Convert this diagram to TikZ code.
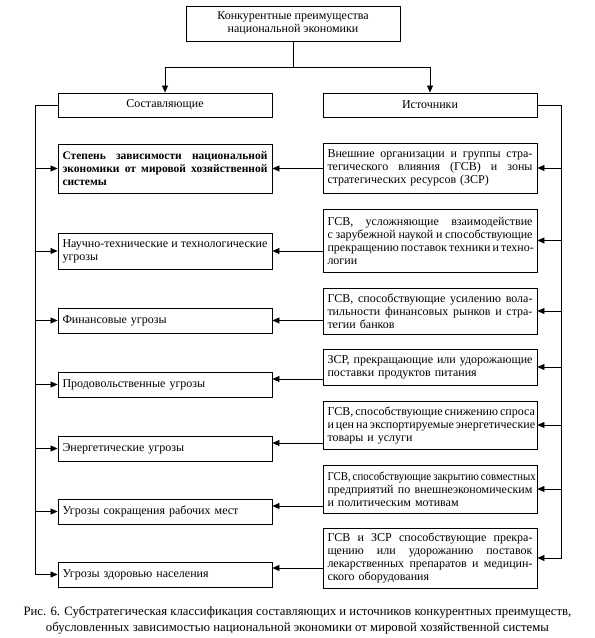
\documentclass[tikz,border=0pt]{standalone}
\usepackage{fontspec}
\setmainfont{Liberation Serif}
\newfontfamily\condfont{Liberation Serif}[FakeStretch=0.9]
\usetikzlibrary{arrows.meta,calc}
\newcommand\jl[1]{\leavevmode\hbox to 205pt{\spaceskip=0.25em plus 1fil minus 0.08em\relax #1}}
\begin{document}
\begin{tikzpicture}[x=1pt,y=-1pt,
  box/.style={draw, line width=0.9pt, inner sep=0pt, minimum width=214pt,
    text width=205pt, align=left, font=\fontsize{12}{13}\selectfont},
  head/.style={draw, line width=0.9pt, inner sep=0pt, minimum width=214pt,
    align=center, font=\fontsize{12}{13}\selectfont},
  conn/.style={line width=0.8pt},
  arr/.style={conn, -{Triangle[length=7pt,width=6pt]}}]
\useasboundingbox (0,0) rectangle (595,638);

% top and headings
\node[head, minimum height=35pt] (top) at (293,23.5) {Конкурентные преимущества\\национальной экономики};
\node[head, minimum height=24pt] (sost) at (165,105) {Составляющие};
\node[head, minimum height=24pt] (ist) at (430,105) {Источники};

% left column
\node[box, minimum height=49pt, font=\fontsize{11.5}{13}\selectfont\bfseries] (l1) at (165,168.5) {\jl{Степень зависимости национальной}\\\jl{экономики от мировой хозяйственной}\\системы};
\node[box, minimum height=36pt] (l2) at (165,251) {\jl{Научно-технические и технологические}\\угрозы};
\node[box, minimum height=25pt] (l3) at (165,320.5) {Финансовые угрозы};
\node[box, minimum height=25pt] (l4) at (165,384.5) {Продовольственные угрозы};
\node[box, minimum height=25pt] (l5) at (165,448.5) {Энергетические угрозы};
\node[box, minimum height=25pt] (l6) at (165,511.5) {Угрозы сокращения рабочих мест};
\node[box, minimum height=25pt] (l7) at (165,574.5) {Угрозы здоровью населения};

% right column
\node[box, minimum height=50pt] (r1) at (430,168) {\jl{Внешние организации и группы стра-}\\\jl{тегического влияния (ГСВ) и зоны}\\стратегических ресурсов (ЗСР)};
\node[box, minimum height=63pt] (r2) at (430,240.5) {\jl{ГСВ, усложняющие взаимодействие}\\\jl{с зарубежной наукой и способствующие}\\\jl{прекращению поставок техники и техно-}\\логии};
\node[box, minimum height=46pt] (r3) at (430,311) {\jl{ГСВ, способствующие усилению вола-}\\\jl{тильности финансовых рынков и стра-}\\тегии банков};
\node[box, minimum height=36pt] (r4) at (430,367) {\jl{ЗСР, прекращающие или удорожающие}\\поставки продуктов питания};
\node[box, minimum height=48pt] (r5) at (430,425) {\jl{ГСВ, способствующие снижению спроса}\\\jl{и цен на экспортируемые энергетические}\\товары и услуги};
\node[box, minimum height=48pt] (r6) at (430,489) {\jl{\condfont ГСВ, способствующие закрытию совместных}\\\jl{предприятий по внешнеэкономическим}\\и политическим мотивам};
\node[box, minimum height=60pt] (r7) at (430,558) {\jl{ГСВ и ЗСР способствующие прекра-}\\\jl{щению или удорожанию поставок}\\\jl{лекарственных препаратов и медицин-}\\ского оборудования};

% caption
\node[align=center, inner sep=0pt, font=\fontsize{12.75}{16}\selectfont] (cap) at (297.5,620)
  {Рис. 6. Субстратегическая классификация составляющих и источников конкурентных преимуществ,\\
   обусловленных зависимостью национальной экономики от мировой хозяйственной системы};

% top branching
\coordinate (j) at (293,67);
\draw[conn] (top.south) -- (j);
\draw[arr] (j) -| (sost.north);
\draw[arr] (j) -| (ist.north);

% left bus
\coordinate (lb) at (35,105);
\draw[conn] (sost.west) -- (lb);
\foreach \k in {1,...,7} \draw[arr] (lb) |- (l\k.west);

% right bus
\coordinate (rb) at (561,105);
\draw[conn] (ist.east) -- (rb);
\foreach \k in {1,...,7} \draw[arr] (rb) |- (r\k.east);

% middle connectors
\coordinate (m1) at (272,168.5);
\coordinate (m2) at (272,251);
\coordinate (m3) at (272,320.5);
\coordinate (m4) at (272,379);
\coordinate (m5) at (272,443);
\coordinate (m6) at (272,506);
\coordinate (m7) at (272,568);
\foreach \k in {1,...,7} \draw[arr] (r\k.west |- m\k) -- (l\k.east |- m\k);
\end{tikzpicture}
\end{document}
